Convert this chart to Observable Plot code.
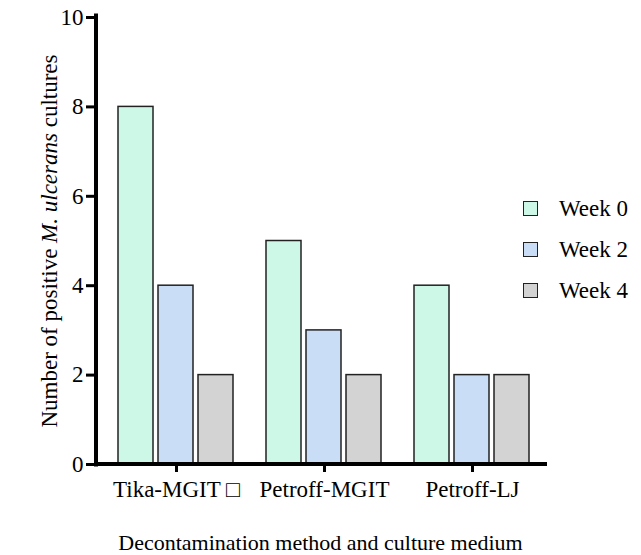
<!DOCTYPE html>
<html><head><meta charset="utf-8">
<script src="https://cdn.jsdelivr.net/npm/d3@7"></script>
<script src="https://cdn.jsdelivr.net/npm/@observablehq/plot@0.6"></script>
<style>
html,body{margin:0;padding:0;background:#fff;}
#wrap{position:relative;width:641px;height:555px;font-family:"Liberation Serif",serif;color:#000;}
#legend{position:absolute;left:523px;top:188px;font-size:23px;}
#legend .item{display:flex;align-items:center;height:41px;}
#legend .sw{width:13px;height:13px;border:1.5px solid #222;margin-right:21px;box-sizing:content-box;}
</style></head><body><div id="wrap"></div>
<script>
const groups = ["Tika-MGIT \u25A1", "Petroff-MGIT", "Petroff-LJ"];
const weeks = ["Week 0", "Week 2", "Week 4"];
const week0 = [8, 5, 4];
const week2 = [4, 3, 2];
const week4 = [2, 2, 2];
const colors = ["#cdf7e6", "#c9ddf6", "#d3d3d3"];
const yTicks = [0, 2, 4, 6, 8, 10];
const yLabelParts = [["Number of positive ", "normal"], ["M. ulcerans", "italic"], [" cultures", "normal"]];
const xLabel = "Decontamination method and culture medium";

const series = [week0, week2, week4];
const data = groups.flatMap((g, i) => series.map((s, j) => ({group: g, week: weeks[j], value: s[i]})));
const yLabel = yLabelParts.map(p => p[0]).join("");

const plot = Plot.plot({
  width: 641, height: 555,
  marginLeft: 102, marginRight: 95, marginTop: 17, marginBottom: 91,
  style: {fontFamily: "Liberation Serif", fontSize: "23px", color: "#000", background: "#fff"},
  fx: {domain: groups, paddingInner: 0, paddingOuter: 0},
  x: {domain: weeks, axis: null, paddingInner: 0.122, paddingOuter: 0.366},
  y: {domain: [0, 10]},
  color: {domain: weeks, range: colors},
  marks: [
    Plot.barY(data, {fx: "group", x: "week", y: "value", fill: "week", stroke: "#222", strokeWidth: 1.5}),
    Plot.ruleY([0], {stroke: "#000", strokeWidth: 4, dy: -0.5, insetLeft: -8, insetRight: -1}),
    Plot.frame({anchor: "left", facetAnchor: "left", stroke: "#000", strokeWidth: 4, dx: -6.5, insetTop: -2}),
    Plot.axisY({ticks: yTicks, tickSize: 10, strokeWidth: 3, tickPadding: 3, dx: -6,
      label: yLabel, labelAnchor: "center", labelArrow: "none", labelOffset: 62, fontSize: 23}),
    Plot.axisFx({anchor: "bottom", tickSize: 8, strokeWidth: 3, tickPadding: 8, fontSize: 23,
      label: xLabel, labelAnchor: "center", labelArrow: "none", labelOffset: 85})
  ]
});
document.getElementById("wrap").appendChild(plot);

// italic species name in y label; slightly smaller x title
d3.select(plot).selectAll("text").filter(function() { return this.textContent === yLabel; })
  .each(function() {
    const t = d3.select(this);
    t.text(null);
    yLabelParts.forEach(([s, st]) => t.append("tspan").attr("font-style", st).text(s));
  });
d3.select(plot).selectAll("text").filter(function() { return this.textContent === xLabel; })
  .attr("font-size", 22).attr("dx", -4);

// legend from color scale
const cs = plot.scale("color");
const leg = d3.select("#wrap").append("div").attr("id", "legend");
cs.domain.forEach((w, i) => {
  const it = leg.append("div").attr("class", "item");
  it.append("div").attr("class", "sw").style("background", cs.range[i]);
  it.append("span").text(w);
});
</script></body></html>
